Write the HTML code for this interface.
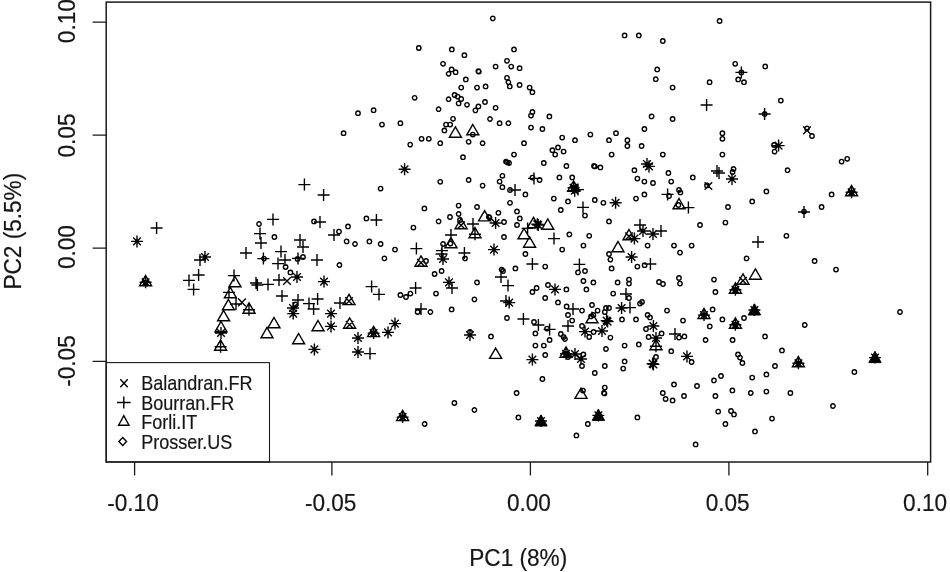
<!DOCTYPE html>
<html><head><meta charset="utf-8"><title>PCA plot</title>
<style>
html,body{margin:0;padding:0;background:#fff;}
svg{display:block;}
text{font-family:"Liberation Sans",Arial,sans-serif;fill:#161616;stroke:#161616;stroke-width:0.2px;}
.ax{font-size:24.3px;}
.lg{font-size:19.4px;}
.ln{stroke:#1a1a1a;stroke-width:1.5;fill:none;}
.pt{stroke:#000;stroke-width:1.4;fill:none;}
</style></head><body>
<svg width="950" height="572" viewBox="0 0 950 572">
<rect x="0" y="0" width="950" height="572" fill="#fff"/>
<path class="pt" d="M133.2 237.6L140.8 245.2M133.2 245.2L140.8 237.6M131.0 241.4H143.0M137.0 235.4V247.4M201.2 253.2L208.8 260.8M201.2 260.8L208.8 253.2M199.0 257.0H211.0M205.0 251.0V263.0M289.2 304.2L296.8 311.8M289.2 311.8L296.8 304.2M287.0 308.0H299.0M293.0 302.0V314.0M145.6 275.5L151.6 285.8H139.6ZM141.8 278.5L149.4 286.1M141.8 286.1L149.4 278.5M139.6 282.3H151.6M145.6 276.3V288.3M143.4 282.3a2.2 2.2 0 1 0 4.4 0a2.2 2.2 0 1 0 -4.4 0M150.6 228.0H162.6M156.6 222.0V234.0M194.0 260.0H206.0M200.0 254.0V266.0M192.6 275.0H204.6M198.6 269.0V281.0M183.0 280.4H195.0M189.0 274.4V286.4M187.6 289.4H199.6M193.6 283.4V295.4M240.0 253.0H252.0M246.0 247.0V259.0M267.0 219.4H279.0M273.0 213.4V225.4M254.0 233.6H266.0M260.0 227.6V239.6M255.0 243.0H267.0M261.0 237.0V249.0M257.4 258.6H269.4M263.4 252.6V264.6M275.0 251.6H287.0M281.0 245.6V257.6M272.0 263.6H284.0M278.0 257.6V269.6M279.0 260.0H291.0M285.0 254.0V266.0M228.0 275.6H240.0M234.0 269.6V281.6M250.0 283.0H262.0M256.0 277.0V289.0M251.4 285.0H263.4M257.4 279.0V291.0M262.0 284.4H274.0M268.0 278.4V290.4M273.0 280.0H285.0M279.0 274.0V286.0M276.0 296.0H288.0M282.0 290.0V302.0M223.0 292.4H235.0M229.0 286.4V298.4M230.0 304.0H242.0M236.0 298.0V310.0M256.8 224.0a2.2 2.2 0 1 0 4.4 0a2.2 2.2 0 1 0 -4.4 0M272.2 237.0a2.2 2.2 0 1 0 4.4 0a2.2 2.2 0 1 0 -4.4 0M261.8 258.6a2.2 2.2 0 1 0 4.4 0a2.2 2.2 0 1 0 -4.4 0M235.0 276.5L241.0 286.8H229.0ZM230.4 287.5L236.4 297.8H224.4ZM228.4 299.5L234.4 309.8H222.4ZM283.2 277.2L290.8 284.8M283.2 284.8L290.8 277.2M238.2 298.6L245.8 306.2M238.2 306.2L245.8 298.6M249.0 302.9L255.0 313.2H243.0ZM243.0 309.7H255.0M249.0 303.7V315.7M283.4 267.0a2.2 2.2 0 1 0 4.4 0a2.2 2.2 0 1 0 -4.4 0M288.2 272.4a2.2 2.2 0 1 0 4.4 0a2.2 2.2 0 1 0 -4.4 0M295.4 259.0a2.2 2.2 0 1 0 4.4 0a2.2 2.2 0 1 0 -4.4 0M300.8 257.0a2.2 2.2 0 1 0 4.4 0a2.2 2.2 0 1 0 -4.4 0M337.2 265.0a2.2 2.2 0 1 0 4.4 0a2.2 2.2 0 1 0 -4.4 0M382.2 258.4a2.2 2.2 0 1 0 4.4 0a2.2 2.2 0 1 0 -4.4 0M293.4 304.4a2.2 2.2 0 1 0 4.4 0a2.2 2.2 0 1 0 -4.4 0M292.0 258.4H304.0M298.0 252.4V264.4M311.0 260.0H323.0M317.0 254.0V266.0M365.6 286.6H377.6M371.6 280.6V292.6M373.0 294.4H385.0M379.0 288.4V300.4M292.0 300.0H304.0M298.0 294.0V306.0M303.0 303.6H315.0M309.0 297.6V309.6M307.6 309.0H319.6M313.6 303.0V315.0M311.6 299.0H323.6M317.6 293.0V305.0M334.0 303.0H346.0M340.0 297.0V309.0M364.0 353.6H376.0M370.0 347.6V359.6M293.2 273.2L300.8 280.8M293.2 280.8L300.8 273.2M291.0 277.0H303.0M297.0 271.0V283.0M320.2 277.8L327.8 285.4M320.2 285.4L327.8 277.8M318.0 281.6H330.0M324.0 275.6V287.6M217.2 329.2L224.8 336.8M217.2 336.8L224.8 329.2M215.0 333.0H227.0M221.0 327.0V339.0M289.4 309.8L297.0 317.4M289.4 317.4L297.0 309.8M287.2 313.6H299.2M293.2 307.6V319.6M327.2 309.8L334.8 317.4M327.2 317.4L334.8 309.8M325.0 313.6H337.0M331.0 307.6V319.6M327.2 322.6L334.8 330.2M327.2 330.2L334.8 322.6M325.0 326.4H337.0M331.0 320.4V332.4M310.6 345.6L318.2 353.2M310.6 353.2L318.2 345.6M308.4 349.4H320.4M314.4 343.4V355.4M354.2 334.2L361.8 341.8M354.2 341.8L361.8 334.2M352.0 338.0H364.0M358.0 332.0V344.0M354.2 348.2L361.8 355.8M354.2 355.8L361.8 348.2M352.0 352.0H364.0M358.0 346.0V358.0M384.2 328.6L391.8 336.2M384.2 336.2L391.8 328.6M382.0 332.4H394.0M388.0 326.4V338.4M223.6 310.5L229.6 320.8H217.6ZM221.0 321.5L227.0 331.8H215.0ZM274.0 317.5L280.0 327.8H268.0ZM267.0 327.5L273.0 337.8H261.0ZM298.6 333.5L304.6 343.8H292.6ZM318.0 320.5L324.0 330.8H312.0ZM220.6 339.9L226.6 350.2H214.6ZM214.6 346.7H226.6M220.6 340.7V352.7M349.0 294.3L355.0 304.6H343.0ZM345.2 297.3L352.8 304.9M345.2 304.9L352.8 297.3M349.6 317.9L355.6 328.2H343.6ZM345.8 320.9L353.4 328.5M345.8 328.5L353.4 320.9M373.6 326.3L379.6 336.6H367.6ZM369.8 329.3L377.4 336.9M369.8 336.9L377.4 329.3M367.6 333.1H379.6M373.6 327.1V339.1M371.4 333.1a2.2 2.2 0 1 0 4.4 0a2.2 2.2 0 1 0 -4.4 0M416.6 48.0a2.2 2.2 0 1 0 4.4 0a2.2 2.2 0 1 0 -4.4 0M449.6 49.4a2.2 2.2 0 1 0 4.4 0a2.2 2.2 0 1 0 -4.4 0M462.2 55.2a2.2 2.2 0 1 0 4.4 0a2.2 2.2 0 1 0 -4.4 0M440.8 63.8a2.2 2.2 0 1 0 4.4 0a2.2 2.2 0 1 0 -4.4 0M449.4 69.4a2.2 2.2 0 1 0 4.4 0a2.2 2.2 0 1 0 -4.4 0M453.4 72.2a2.2 2.2 0 1 0 4.4 0a2.2 2.2 0 1 0 -4.4 0M446.4 73.8a2.2 2.2 0 1 0 4.4 0a2.2 2.2 0 1 0 -4.4 0M476.2 71.2a2.2 2.2 0 1 0 4.4 0a2.2 2.2 0 1 0 -4.4 0M476.6 71.6a2.2 2.2 0 1 0 4.4 0a2.2 2.2 0 1 0 -4.4 0M463.6 79.4a2.2 2.2 0 1 0 4.4 0a2.2 2.2 0 1 0 -4.4 0M459.0 87.6a2.2 2.2 0 1 0 4.4 0a2.2 2.2 0 1 0 -4.4 0M474.8 87.6a2.2 2.2 0 1 0 4.4 0a2.2 2.2 0 1 0 -4.4 0M483.4 86.4a2.2 2.2 0 1 0 4.4 0a2.2 2.2 0 1 0 -4.4 0M412.4 97.8a2.2 2.2 0 1 0 4.4 0a2.2 2.2 0 1 0 -4.4 0M452.4 95.0a2.2 2.2 0 1 0 4.4 0a2.2 2.2 0 1 0 -4.4 0M455.4 96.6a2.2 2.2 0 1 0 4.4 0a2.2 2.2 0 1 0 -4.4 0M459.0 99.0a2.2 2.2 0 1 0 4.4 0a2.2 2.2 0 1 0 -4.4 0M446.4 99.2a2.2 2.2 0 1 0 4.4 0a2.2 2.2 0 1 0 -4.4 0M456.4 103.4a2.2 2.2 0 1 0 4.4 0a2.2 2.2 0 1 0 -4.4 0M464.8 104.8a2.2 2.2 0 1 0 4.4 0a2.2 2.2 0 1 0 -4.4 0M476.2 106.4a2.2 2.2 0 1 0 4.4 0a2.2 2.2 0 1 0 -4.4 0M482.8 102.0a2.2 2.2 0 1 0 4.4 0a2.2 2.2 0 1 0 -4.4 0M473.2 110.4a2.2 2.2 0 1 0 4.4 0a2.2 2.2 0 1 0 -4.4 0M436.4 109.2a2.2 2.2 0 1 0 4.4 0a2.2 2.2 0 1 0 -4.4 0M371.4 110.2a2.2 2.2 0 1 0 4.4 0a2.2 2.2 0 1 0 -4.4 0M355.8 113.2a2.2 2.2 0 1 0 4.4 0a2.2 2.2 0 1 0 -4.4 0M490.6 18.4a2.2 2.2 0 1 0 4.4 0a2.2 2.2 0 1 0 -4.4 0M511.8 49.4a2.2 2.2 0 1 0 4.4 0a2.2 2.2 0 1 0 -4.4 0M504.8 60.8a2.2 2.2 0 1 0 4.4 0a2.2 2.2 0 1 0 -4.4 0M493.4 66.6a2.2 2.2 0 1 0 4.4 0a2.2 2.2 0 1 0 -4.4 0M509.0 66.6a2.2 2.2 0 1 0 4.4 0a2.2 2.2 0 1 0 -4.4 0M517.4 68.2a2.2 2.2 0 1 0 4.4 0a2.2 2.2 0 1 0 -4.4 0M504.8 77.8a2.2 2.2 0 1 0 4.4 0a2.2 2.2 0 1 0 -4.4 0M506.2 82.2a2.2 2.2 0 1 0 4.4 0a2.2 2.2 0 1 0 -4.4 0M507.6 86.4a2.2 2.2 0 1 0 4.4 0a2.2 2.2 0 1 0 -4.4 0M517.4 85.0a2.2 2.2 0 1 0 4.4 0a2.2 2.2 0 1 0 -4.4 0M527.4 87.6a2.2 2.2 0 1 0 4.4 0a2.2 2.2 0 1 0 -4.4 0M530.2 92.2a2.2 2.2 0 1 0 4.4 0a2.2 2.2 0 1 0 -4.4 0M493.4 107.8a2.2 2.2 0 1 0 4.4 0a2.2 2.2 0 1 0 -4.4 0M530.2 112.0a2.2 2.2 0 1 0 4.4 0a2.2 2.2 0 1 0 -4.4 0M622.4 35.4a2.2 2.2 0 1 0 4.4 0a2.2 2.2 0 1 0 -4.4 0M636.6 35.4a2.2 2.2 0 1 0 4.4 0a2.2 2.2 0 1 0 -4.4 0M660.6 41.0a2.2 2.2 0 1 0 4.4 0a2.2 2.2 0 1 0 -4.4 0M655.0 69.4a2.2 2.2 0 1 0 4.4 0a2.2 2.2 0 1 0 -4.4 0M653.6 79.2a2.2 2.2 0 1 0 4.4 0a2.2 2.2 0 1 0 -4.4 0M670.4 87.6a2.2 2.2 0 1 0 4.4 0a2.2 2.2 0 1 0 -4.4 0M717.4 21.0a2.2 2.2 0 1 0 4.4 0a2.2 2.2 0 1 0 -4.4 0M733.0 63.8a2.2 2.2 0 1 0 4.4 0a2.2 2.2 0 1 0 -4.4 0M763.0 66.4a2.2 2.2 0 1 0 4.4 0a2.2 2.2 0 1 0 -4.4 0M707.4 82.2a2.2 2.2 0 1 0 4.4 0a2.2 2.2 0 1 0 -4.4 0M736.0 79.4a2.2 2.2 0 1 0 4.4 0a2.2 2.2 0 1 0 -4.4 0M741.8 82.2a2.2 2.2 0 1 0 4.4 0a2.2 2.2 0 1 0 -4.4 0M778.6 100.6a2.2 2.2 0 1 0 4.4 0a2.2 2.2 0 1 0 -4.4 0M739.2 72.4a2.2 2.2 0 1 0 4.4 0a2.2 2.2 0 1 0 -4.4 0M735.4 72.4H747.4M741.4 66.4V78.4M700.6 105.0H712.6M706.6 99.0V111.0M379.8 124.6a2.2 2.2 0 1 0 4.4 0a2.2 2.2 0 1 0 -4.4 0M398.2 123.2a2.2 2.2 0 1 0 4.4 0a2.2 2.2 0 1 0 -4.4 0M341.4 133.2a2.2 2.2 0 1 0 4.4 0a2.2 2.2 0 1 0 -4.4 0M450.8 118.8a2.2 2.2 0 1 0 4.4 0a2.2 2.2 0 1 0 -4.4 0M443.8 124.6a2.2 2.2 0 1 0 4.4 0a2.2 2.2 0 1 0 -4.4 0M448.0 124.6a2.2 2.2 0 1 0 4.4 0a2.2 2.2 0 1 0 -4.4 0M442.2 130.4a2.2 2.2 0 1 0 4.4 0a2.2 2.2 0 1 0 -4.4 0M419.4 138.8a2.2 2.2 0 1 0 4.4 0a2.2 2.2 0 1 0 -4.4 0M426.6 138.8a2.2 2.2 0 1 0 4.4 0a2.2 2.2 0 1 0 -4.4 0M408.0 144.6a2.2 2.2 0 1 0 4.4 0a2.2 2.2 0 1 0 -4.4 0M438.0 143.2a2.2 2.2 0 1 0 4.4 0a2.2 2.2 0 1 0 -4.4 0M466.4 141.8a2.2 2.2 0 1 0 4.4 0a2.2 2.2 0 1 0 -4.4 0M480.4 143.2a2.2 2.2 0 1 0 4.4 0a2.2 2.2 0 1 0 -4.4 0M470.6 134.6a2.2 2.2 0 1 0 4.4 0a2.2 2.2 0 1 0 -4.4 0M460.8 157.2a2.2 2.2 0 1 0 4.4 0a2.2 2.2 0 1 0 -4.4 0M438.0 181.8a2.2 2.2 0 1 0 4.4 0a2.2 2.2 0 1 0 -4.4 0M466.4 180.0a2.2 2.2 0 1 0 4.4 0a2.2 2.2 0 1 0 -4.4 0M480.4 185.6a2.2 2.2 0 1 0 4.4 0a2.2 2.2 0 1 0 -4.4 0M378.4 188.6a2.2 2.2 0 1 0 4.4 0a2.2 2.2 0 1 0 -4.4 0M422.2 208.4a2.2 2.2 0 1 0 4.4 0a2.2 2.2 0 1 0 -4.4 0M456.4 205.6a2.2 2.2 0 1 0 4.4 0a2.2 2.2 0 1 0 -4.4 0M474.8 207.0a2.2 2.2 0 1 0 4.4 0a2.2 2.2 0 1 0 -4.4 0M456.4 214.0a2.2 2.2 0 1 0 4.4 0a2.2 2.2 0 1 0 -4.4 0M447.8 217.0a2.2 2.2 0 1 0 4.4 0a2.2 2.2 0 1 0 -4.4 0M436.4 221.4a2.2 2.2 0 1 0 4.4 0a2.2 2.2 0 1 0 -4.4 0M457.8 220.0a2.2 2.2 0 1 0 4.4 0a2.2 2.2 0 1 0 -4.4 0M364.2 218.4a2.2 2.2 0 1 0 4.4 0a2.2 2.2 0 1 0 -4.4 0M311.8 221.4a2.2 2.2 0 1 0 4.4 0a2.2 2.2 0 1 0 -4.4 0M345.8 226.4a2.2 2.2 0 1 0 4.4 0a2.2 2.2 0 1 0 -4.4 0M411.2 227.6a2.2 2.2 0 1 0 4.4 0a2.2 2.2 0 1 0 -4.4 0M455.4 126.9L461.4 137.2H449.4ZM472.8 124.5L478.8 134.8H466.8ZM400.8 165.4L408.4 173.0M400.8 173.0L408.4 165.4M398.6 169.2H410.6M404.6 163.2V175.2M298.4 184.6H310.4M304.4 178.6V190.6M317.6 195.0H329.6M323.6 189.0V201.0M314.0 222.0H326.0M320.0 216.0V228.0M370.4 220.0H382.4M376.4 214.0V226.0M467.0 224.0H479.0M473.0 218.0V230.0M487.8 119.0a2.2 2.2 0 1 0 4.4 0a2.2 2.2 0 1 0 -4.4 0M497.4 123.2a2.2 2.2 0 1 0 4.4 0a2.2 2.2 0 1 0 -4.4 0M506.2 123.2a2.2 2.2 0 1 0 4.4 0a2.2 2.2 0 1 0 -4.4 0M528.8 115.6a2.2 2.2 0 1 0 4.4 0a2.2 2.2 0 1 0 -4.4 0M547.2 116.4a2.2 2.2 0 1 0 4.4 0a2.2 2.2 0 1 0 -4.4 0M528.8 127.6a2.2 2.2 0 1 0 4.4 0a2.2 2.2 0 1 0 -4.4 0M540.2 129.0a2.2 2.2 0 1 0 4.4 0a2.2 2.2 0 1 0 -4.4 0M521.8 143.2a2.2 2.2 0 1 0 4.4 0a2.2 2.2 0 1 0 -4.4 0M560.0 137.6a2.2 2.2 0 1 0 4.4 0a2.2 2.2 0 1 0 -4.4 0M572.8 140.2a2.2 2.2 0 1 0 4.4 0a2.2 2.2 0 1 0 -4.4 0M588.2 134.6a2.2 2.2 0 1 0 4.4 0a2.2 2.2 0 1 0 -4.4 0M613.8 133.2a2.2 2.2 0 1 0 4.4 0a2.2 2.2 0 1 0 -4.4 0M606.8 140.2a2.2 2.2 0 1 0 4.4 0a2.2 2.2 0 1 0 -4.4 0M625.2 140.2a2.2 2.2 0 1 0 4.4 0a2.2 2.2 0 1 0 -4.4 0M625.2 146.0a2.2 2.2 0 1 0 4.4 0a2.2 2.2 0 1 0 -4.4 0M639.4 146.0a2.2 2.2 0 1 0 4.4 0a2.2 2.2 0 1 0 -4.4 0M642.2 129.0a2.2 2.2 0 1 0 4.4 0a2.2 2.2 0 1 0 -4.4 0M649.4 116.4a2.2 2.2 0 1 0 4.4 0a2.2 2.2 0 1 0 -4.4 0M670.4 119.0a2.2 2.2 0 1 0 4.4 0a2.2 2.2 0 1 0 -4.4 0M511.8 154.6a2.2 2.2 0 1 0 4.4 0a2.2 2.2 0 1 0 -4.4 0M555.8 147.4a2.2 2.2 0 1 0 4.4 0a2.2 2.2 0 1 0 -4.4 0M550.2 150.2a2.2 2.2 0 1 0 4.4 0a2.2 2.2 0 1 0 -4.4 0M553.0 154.6a2.2 2.2 0 1 0 4.4 0a2.2 2.2 0 1 0 -4.4 0M561.4 151.6a2.2 2.2 0 1 0 4.4 0a2.2 2.2 0 1 0 -4.4 0M609.4 154.6a2.2 2.2 0 1 0 4.4 0a2.2 2.2 0 1 0 -4.4 0M660.6 154.6a2.2 2.2 0 1 0 4.4 0a2.2 2.2 0 1 0 -4.4 0M503.8 161.6a2.2 2.2 0 1 0 4.4 0a2.2 2.2 0 1 0 -4.4 0M506.8 163.0a2.2 2.2 0 1 0 4.4 0a2.2 2.2 0 1 0 -4.4 0M505.0 162.4a2.2 2.2 0 1 0 4.4 0a2.2 2.2 0 1 0 -4.4 0M541.6 163.0a2.2 2.2 0 1 0 4.4 0a2.2 2.2 0 1 0 -4.4 0M564.2 166.0a2.2 2.2 0 1 0 4.4 0a2.2 2.2 0 1 0 -4.4 0M591.8 166.0a2.2 2.2 0 1 0 4.4 0a2.2 2.2 0 1 0 -4.4 0M592.6 166.4a2.2 2.2 0 1 0 4.4 0a2.2 2.2 0 1 0 -4.4 0M598.2 167.4a2.2 2.2 0 1 0 4.4 0a2.2 2.2 0 1 0 -4.4 0M632.2 170.2a2.2 2.2 0 1 0 4.4 0a2.2 2.2 0 1 0 -4.4 0M666.2 173.0a2.2 2.2 0 1 0 4.4 0a2.2 2.2 0 1 0 -4.4 0M500.2 175.8a2.2 2.2 0 1 0 4.4 0a2.2 2.2 0 1 0 -4.4 0M497.4 181.6a2.2 2.2 0 1 0 4.4 0a2.2 2.2 0 1 0 -4.4 0M500.2 187.2a2.2 2.2 0 1 0 4.4 0a2.2 2.2 0 1 0 -4.4 0M557.2 177.4a2.2 2.2 0 1 0 4.4 0a2.2 2.2 0 1 0 -4.4 0M570.0 177.4a2.2 2.2 0 1 0 4.4 0a2.2 2.2 0 1 0 -4.4 0M537.4 180.0a2.2 2.2 0 1 0 4.4 0a2.2 2.2 0 1 0 -4.4 0M635.2 178.6a2.2 2.2 0 1 0 4.4 0a2.2 2.2 0 1 0 -4.4 0M642.2 181.6a2.2 2.2 0 1 0 4.4 0a2.2 2.2 0 1 0 -4.4 0M650.8 183.0a2.2 2.2 0 1 0 4.4 0a2.2 2.2 0 1 0 -4.4 0M669.0 181.6a2.2 2.2 0 1 0 4.4 0a2.2 2.2 0 1 0 -4.4 0M507.8 190.0a2.2 2.2 0 1 0 4.4 0a2.2 2.2 0 1 0 -4.4 0M523.2 194.4a2.2 2.2 0 1 0 4.4 0a2.2 2.2 0 1 0 -4.4 0M642.2 194.4a2.2 2.2 0 1 0 4.4 0a2.2 2.2 0 1 0 -4.4 0M633.8 198.6a2.2 2.2 0 1 0 4.4 0a2.2 2.2 0 1 0 -4.4 0M551.6 198.6a2.2 2.2 0 1 0 4.4 0a2.2 2.2 0 1 0 -4.4 0M565.8 201.4a2.2 2.2 0 1 0 4.4 0a2.2 2.2 0 1 0 -4.4 0M592.6 200.0a2.2 2.2 0 1 0 4.4 0a2.2 2.2 0 1 0 -4.4 0M601.2 202.8a2.2 2.2 0 1 0 4.4 0a2.2 2.2 0 1 0 -4.4 0M507.8 202.8a2.2 2.2 0 1 0 4.4 0a2.2 2.2 0 1 0 -4.4 0M558.6 210.0a2.2 2.2 0 1 0 4.4 0a2.2 2.2 0 1 0 -4.4 0M582.8 215.6a2.2 2.2 0 1 0 4.4 0a2.2 2.2 0 1 0 -4.4 0M514.8 211.4a2.2 2.2 0 1 0 4.4 0a2.2 2.2 0 1 0 -4.4 0M496.2 212.8a2.2 2.2 0 1 0 4.4 0a2.2 2.2 0 1 0 -4.4 0M517.6 218.4a2.2 2.2 0 1 0 4.4 0a2.2 2.2 0 1 0 -4.4 0M501.8 222.0a2.2 2.2 0 1 0 4.4 0a2.2 2.2 0 1 0 -4.4 0M514.8 225.0a2.2 2.2 0 1 0 4.4 0a2.2 2.2 0 1 0 -4.4 0M606.8 221.4a2.2 2.2 0 1 0 4.4 0a2.2 2.2 0 1 0 -4.4 0M666.8 196.0a2.2 2.2 0 1 0 4.4 0a2.2 2.2 0 1 0 -4.4 0M530.2 177.6a2.2 2.2 0 1 0 4.4 0a2.2 2.2 0 1 0 -4.4 0M528.0 178.4H540.0M534.0 172.4V184.4M509.0 190.0H521.0M515.0 184.0V196.0M577.0 207.4H589.0M583.0 201.4V213.4M572.0 189.6H584.0M578.0 183.6V195.6M634.0 225.0H646.0M640.0 219.0V231.0M661.6 194.4H673.6M667.6 188.4V200.4M643.2 160.2L650.8 167.8M643.2 167.8L650.8 160.2M641.0 164.0H653.0M647.0 158.0V170.0M645.2 162.6L652.8 170.2M645.2 170.2L652.8 162.6M643.0 166.4H655.0M649.0 160.4V172.4M611.8 199.0L619.4 206.6M611.8 206.6L619.4 199.0M609.6 202.8H621.6M615.6 196.8V208.8M491.8 219.2L499.4 226.8M491.8 226.8L499.4 219.2M489.6 223.0H501.6M495.6 217.0V229.0M573.6 180.9L579.6 191.2H567.6ZM569.8 183.9L577.4 191.5M569.8 191.5L577.4 183.9M567.6 187.7H579.6M573.6 181.7V193.7M571.4 187.7a2.2 2.2 0 1 0 4.4 0a2.2 2.2 0 1 0 -4.4 0M774.8 141.8L782.4 149.4M774.8 149.4L782.4 141.8M772.6 145.6H784.6M778.6 139.6V151.6M728.2 175.2L735.8 182.8M728.2 182.8L735.8 175.2M726.0 179.0H738.0M732.0 173.0V185.0M758.6 114.0H770.6M764.6 108.0V120.0M762.4 114.0a2.2 2.2 0 1 0 4.4 0a2.2 2.2 0 1 0 -4.4 0M720.2 133.2a2.2 2.2 0 1 0 4.4 0a2.2 2.2 0 1 0 -4.4 0M720.2 138.8a2.2 2.2 0 1 0 4.4 0a2.2 2.2 0 1 0 -4.4 0M720.2 154.6a2.2 2.2 0 1 0 4.4 0a2.2 2.2 0 1 0 -4.4 0M690.6 177.4a2.2 2.2 0 1 0 4.4 0a2.2 2.2 0 1 0 -4.4 0M676.8 190.0a2.2 2.2 0 1 0 4.4 0a2.2 2.2 0 1 0 -4.4 0M678.2 192.4a2.2 2.2 0 1 0 4.4 0a2.2 2.2 0 1 0 -4.4 0M809.8 136.0a2.2 2.2 0 1 0 4.4 0a2.2 2.2 0 1 0 -4.4 0M772.4 151.6a2.2 2.2 0 1 0 4.4 0a2.2 2.2 0 1 0 -4.4 0M771.8 145.0a2.2 2.2 0 1 0 4.4 0a2.2 2.2 0 1 0 -4.4 0M785.4 170.2a2.2 2.2 0 1 0 4.4 0a2.2 2.2 0 1 0 -4.4 0M839.4 161.6a2.2 2.2 0 1 0 4.4 0a2.2 2.2 0 1 0 -4.4 0M845.0 158.8a2.2 2.2 0 1 0 4.4 0a2.2 2.2 0 1 0 -4.4 0M764.2 191.4a2.2 2.2 0 1 0 4.4 0a2.2 2.2 0 1 0 -4.4 0M750.0 201.4a2.2 2.2 0 1 0 4.4 0a2.2 2.2 0 1 0 -4.4 0M725.8 207.0a2.2 2.2 0 1 0 4.4 0a2.2 2.2 0 1 0 -4.4 0M723.2 222.6a2.2 2.2 0 1 0 4.4 0a2.2 2.2 0 1 0 -4.4 0M697.8 225.0a2.2 2.2 0 1 0 4.4 0a2.2 2.2 0 1 0 -4.4 0M829.4 194.4a2.2 2.2 0 1 0 4.4 0a2.2 2.2 0 1 0 -4.4 0M819.4 207.0a2.2 2.2 0 1 0 4.4 0a2.2 2.2 0 1 0 -4.4 0M731.4 169.0a2.2 2.2 0 1 0 4.4 0a2.2 2.2 0 1 0 -4.4 0M730.4 172.0a2.2 2.2 0 1 0 4.4 0a2.2 2.2 0 1 0 -4.4 0M804.8 128.4a2.2 2.2 0 1 0 4.4 0a2.2 2.2 0 1 0 -4.4 0M704.8 185.4a2.2 2.2 0 1 0 4.4 0a2.2 2.2 0 1 0 -4.4 0M801.8 211.6a2.2 2.2 0 1 0 4.4 0a2.2 2.2 0 1 0 -4.4 0M803.2 126.6L810.8 134.2M803.2 134.2L810.8 126.6M704.6 182.2L712.2 189.8M704.6 189.8L712.2 182.2M711.0 171.0H723.0M717.0 165.0V177.0M713.0 173.0H725.0M719.0 167.0V179.0M682.4 207.6H694.4M688.4 201.6V213.6M798.0 212.0H810.0M804.0 206.0V218.0M851.6 185.5L857.6 195.8H845.6ZM847.8 188.5L855.4 196.1M847.8 196.1L855.4 188.5M845.6 192.3H857.6M851.6 186.3V198.3M849.4 192.3a2.2 2.2 0 1 0 4.4 0a2.2 2.2 0 1 0 -4.4 0M328.0 235.0H340.0M334.0 229.0V241.0M294.0 240.0H306.0M300.0 234.0V246.0M297.0 247.0H309.0M303.0 241.0V253.0M410.4 248.6H422.4M416.4 242.6V254.6M445.0 235.0H457.0M451.0 229.0V241.0M435.6 254.0H447.6M441.6 248.0V260.0M458.4 253.0H470.4M464.4 247.0V259.0M409.6 288.0H421.6M415.6 282.0V294.0M446.0 288.0H458.0M452.0 282.0V294.0M415.0 309.0H427.0M421.0 303.0V315.0M336.8 231.6a2.2 2.2 0 1 0 4.4 0a2.2 2.2 0 1 0 -4.4 0M344.4 241.4a2.2 2.2 0 1 0 4.4 0a2.2 2.2 0 1 0 -4.4 0M352.8 244.0a2.2 2.2 0 1 0 4.4 0a2.2 2.2 0 1 0 -4.4 0M367.2 241.4a2.2 2.2 0 1 0 4.4 0a2.2 2.2 0 1 0 -4.4 0M378.4 244.0a2.2 2.2 0 1 0 4.4 0a2.2 2.2 0 1 0 -4.4 0M392.8 249.6a2.2 2.2 0 1 0 4.4 0a2.2 2.2 0 1 0 -4.4 0M440.8 244.0a2.2 2.2 0 1 0 4.4 0a2.2 2.2 0 1 0 -4.4 0M462.8 258.4a2.2 2.2 0 1 0 4.4 0a2.2 2.2 0 1 0 -4.4 0M423.8 261.0a2.2 2.2 0 1 0 4.4 0a2.2 2.2 0 1 0 -4.4 0M432.4 274.0a2.2 2.2 0 1 0 4.4 0a2.2 2.2 0 1 0 -4.4 0M439.4 271.0a2.2 2.2 0 1 0 4.4 0a2.2 2.2 0 1 0 -4.4 0M474.8 282.4a2.2 2.2 0 1 0 4.4 0a2.2 2.2 0 1 0 -4.4 0M433.8 293.6a2.2 2.2 0 1 0 4.4 0a2.2 2.2 0 1 0 -4.4 0M472.2 299.4a2.2 2.2 0 1 0 4.4 0a2.2 2.2 0 1 0 -4.4 0M449.4 309.4a2.2 2.2 0 1 0 4.4 0a2.2 2.2 0 1 0 -4.4 0M398.2 295.0a2.2 2.2 0 1 0 4.4 0a2.2 2.2 0 1 0 -4.4 0M403.8 297.0a2.2 2.2 0 1 0 4.4 0a2.2 2.2 0 1 0 -4.4 0M408.2 293.6a2.2 2.2 0 1 0 4.4 0a2.2 2.2 0 1 0 -4.4 0M415.4 312.0a2.2 2.2 0 1 0 4.4 0a2.2 2.2 0 1 0 -4.4 0M428.2 312.0a2.2 2.2 0 1 0 4.4 0a2.2 2.2 0 1 0 -4.4 0M439.2 255.2L446.8 262.8M439.2 262.8L446.8 255.2M437.0 259.0H449.0M443.0 253.0V265.0M445.2 278.6L452.8 286.2M445.2 286.2L452.8 278.6M443.0 282.4H455.0M449.0 276.4V288.4M391.2 319.8L398.8 327.4M391.2 327.4L398.8 319.8M389.0 323.6H401.0M395.0 317.6V329.6M466.2 331.2L473.8 338.8M466.2 338.8L473.8 331.2M464.0 335.0H476.0M470.0 329.0V341.0M451.0 237.5L457.0 247.8H445.0ZM475.0 227.5L481.0 237.8H469.0ZM469.0 234.3H481.0M475.0 228.3V240.3M421.0 255.9L427.0 266.2H415.0ZM417.2 258.9L424.8 266.5M417.2 266.5L424.8 258.9M501.8 237.0a2.2 2.2 0 1 0 4.4 0a2.2 2.2 0 1 0 -4.4 0M567.2 234.4a2.2 2.2 0 1 0 4.4 0a2.2 2.2 0 1 0 -4.4 0M587.0 235.8a2.2 2.2 0 1 0 4.4 0a2.2 2.2 0 1 0 -4.4 0M581.2 245.6a2.2 2.2 0 1 0 4.4 0a2.2 2.2 0 1 0 -4.4 0M560.0 249.6a2.2 2.2 0 1 0 4.4 0a2.2 2.2 0 1 0 -4.4 0M523.2 254.0a2.2 2.2 0 1 0 4.4 0a2.2 2.2 0 1 0 -4.4 0M645.4 245.6a2.2 2.2 0 1 0 4.4 0a2.2 2.2 0 1 0 -4.4 0M671.8 245.6a2.2 2.2 0 1 0 4.4 0a2.2 2.2 0 1 0 -4.4 0M606.8 254.0a2.2 2.2 0 1 0 4.4 0a2.2 2.2 0 1 0 -4.4 0M608.2 259.6a2.2 2.2 0 1 0 4.4 0a2.2 2.2 0 1 0 -4.4 0M609.4 268.4a2.2 2.2 0 1 0 4.4 0a2.2 2.2 0 1 0 -4.4 0M513.2 268.4a2.2 2.2 0 1 0 4.4 0a2.2 2.2 0 1 0 -4.4 0M543.0 266.6a2.2 2.2 0 1 0 4.4 0a2.2 2.2 0 1 0 -4.4 0M635.2 266.6a2.2 2.2 0 1 0 4.4 0a2.2 2.2 0 1 0 -4.4 0M642.4 265.2a2.2 2.2 0 1 0 4.4 0a2.2 2.2 0 1 0 -4.4 0M499.4 269.6a2.2 2.2 0 1 0 4.4 0a2.2 2.2 0 1 0 -4.4 0M500.8 271.0a2.2 2.2 0 1 0 4.4 0a2.2 2.2 0 1 0 -4.4 0M575.8 272.4a2.2 2.2 0 1 0 4.4 0a2.2 2.2 0 1 0 -4.4 0M582.8 271.0a2.2 2.2 0 1 0 4.4 0a2.2 2.2 0 1 0 -4.4 0M581.2 281.0a2.2 2.2 0 1 0 4.4 0a2.2 2.2 0 1 0 -4.4 0M591.2 282.4a2.2 2.2 0 1 0 4.4 0a2.2 2.2 0 1 0 -4.4 0M584.2 289.4a2.2 2.2 0 1 0 4.4 0a2.2 2.2 0 1 0 -4.4 0M615.4 282.4a2.2 2.2 0 1 0 4.4 0a2.2 2.2 0 1 0 -4.4 0M626.8 279.6a2.2 2.2 0 1 0 4.4 0a2.2 2.2 0 1 0 -4.4 0M626.8 283.6a2.2 2.2 0 1 0 4.4 0a2.2 2.2 0 1 0 -4.4 0M656.8 282.0a2.2 2.2 0 1 0 4.4 0a2.2 2.2 0 1 0 -4.4 0M660.8 284.0a2.2 2.2 0 1 0 4.4 0a2.2 2.2 0 1 0 -4.4 0M611.0 293.6a2.2 2.2 0 1 0 4.4 0a2.2 2.2 0 1 0 -4.4 0M564.2 289.4a2.2 2.2 0 1 0 4.4 0a2.2 2.2 0 1 0 -4.4 0M545.8 285.0a2.2 2.2 0 1 0 4.4 0a2.2 2.2 0 1 0 -4.4 0M534.4 288.0a2.2 2.2 0 1 0 4.4 0a2.2 2.2 0 1 0 -4.4 0M530.2 292.0a2.2 2.2 0 1 0 4.4 0a2.2 2.2 0 1 0 -4.4 0M543.0 298.0a2.2 2.2 0 1 0 4.4 0a2.2 2.2 0 1 0 -4.4 0M555.8 302.4a2.2 2.2 0 1 0 4.4 0a2.2 2.2 0 1 0 -4.4 0M626.8 298.0a2.2 2.2 0 1 0 4.4 0a2.2 2.2 0 1 0 -4.4 0M589.8 305.0a2.2 2.2 0 1 0 4.4 0a2.2 2.2 0 1 0 -4.4 0M564.4 306.4a2.2 2.2 0 1 0 4.4 0a2.2 2.2 0 1 0 -4.4 0M579.8 310.6a2.2 2.2 0 1 0 4.4 0a2.2 2.2 0 1 0 -4.4 0M565.8 315.0a2.2 2.2 0 1 0 4.4 0a2.2 2.2 0 1 0 -4.4 0M637.8 303.6a2.2 2.2 0 1 0 4.4 0a2.2 2.2 0 1 0 -4.4 0M639.8 302.0a2.2 2.2 0 1 0 4.4 0a2.2 2.2 0 1 0 -4.4 0M664.8 310.6a2.2 2.2 0 1 0 4.4 0a2.2 2.2 0 1 0 -4.4 0M504.8 318.0a2.2 2.2 0 1 0 4.4 0a2.2 2.2 0 1 0 -4.4 0M619.8 319.4a2.2 2.2 0 1 0 4.4 0a2.2 2.2 0 1 0 -4.4 0M633.8 319.4a2.2 2.2 0 1 0 4.4 0a2.2 2.2 0 1 0 -4.4 0M645.4 315.0a2.2 2.2 0 1 0 4.4 0a2.2 2.2 0 1 0 -4.4 0M647.8 317.4a2.2 2.2 0 1 0 4.4 0a2.2 2.2 0 1 0 -4.4 0M531.8 322.0a2.2 2.2 0 1 0 4.4 0a2.2 2.2 0 1 0 -4.4 0M570.0 320.6a2.2 2.2 0 1 0 4.4 0a2.2 2.2 0 1 0 -4.4 0M533.2 333.4a2.2 2.2 0 1 0 4.4 0a2.2 2.2 0 1 0 -4.4 0M488.8 336.4a2.2 2.2 0 1 0 4.4 0a2.2 2.2 0 1 0 -4.4 0M547.4 340.0a2.2 2.2 0 1 0 4.4 0a2.2 2.2 0 1 0 -4.4 0M558.6 334.0a2.2 2.2 0 1 0 4.4 0a2.2 2.2 0 1 0 -4.4 0M561.4 337.0a2.2 2.2 0 1 0 4.4 0a2.2 2.2 0 1 0 -4.4 0M562.8 339.0a2.2 2.2 0 1 0 4.4 0a2.2 2.2 0 1 0 -4.4 0M608.2 337.6a2.2 2.2 0 1 0 4.4 0a2.2 2.2 0 1 0 -4.4 0M591.4 332.0a2.2 2.2 0 1 0 4.4 0a2.2 2.2 0 1 0 -4.4 0M587.0 337.0a2.2 2.2 0 1 0 4.4 0a2.2 2.2 0 1 0 -4.4 0M579.8 326.0a2.2 2.2 0 1 0 4.4 0a2.2 2.2 0 1 0 -4.4 0M643.8 329.0a2.2 2.2 0 1 0 4.4 0a2.2 2.2 0 1 0 -4.4 0M659.4 333.4a2.2 2.2 0 1 0 4.4 0a2.2 2.2 0 1 0 -4.4 0M646.4 337.0a2.2 2.2 0 1 0 4.4 0a2.2 2.2 0 1 0 -4.4 0M595.4 310.6a2.2 2.2 0 1 0 4.4 0a2.2 2.2 0 1 0 -4.4 0M603.8 308.0a2.2 2.2 0 1 0 4.4 0a2.2 2.2 0 1 0 -4.4 0M606.8 308.0a2.2 2.2 0 1 0 4.4 0a2.2 2.2 0 1 0 -4.4 0M602.6 312.0a2.2 2.2 0 1 0 4.4 0a2.2 2.2 0 1 0 -4.4 0M591.2 315.0a2.2 2.2 0 1 0 4.4 0a2.2 2.2 0 1 0 -4.4 0M588.8 316.4a2.2 2.2 0 1 0 4.4 0a2.2 2.2 0 1 0 -4.4 0M548.0 238.6H560.0M554.0 232.6V244.6M526.4 264.0H538.4M532.4 258.0V270.0M573.4 264.4H585.4M579.4 258.4V270.4M495.0 277.0H507.0M501.0 271.0V283.0M502.0 285.6H514.0M508.0 279.6V291.6M644.4 264.0H656.4M650.4 258.0V270.0M620.0 294.0H632.0M626.0 288.0V300.0M624.0 307.6H636.0M630.0 301.6V313.6M567.0 309.0H579.0M573.0 303.0V315.0M517.4 319.0H529.4M523.4 313.0V325.0M532.4 325.0H544.4M538.4 319.0V331.0M543.6 329.4H555.6M549.6 323.4V335.4M562.0 326.0H574.0M568.0 320.0V332.0M655.0 231.0H667.0M661.0 225.0V237.0M669.0 334.0H681.0M675.0 328.0V340.0M647.4 326.0H659.4M653.4 320.0V332.0M500.0 301.0H512.0M506.0 295.0V307.0M490.2 245.8L497.8 253.4M490.2 253.4L497.8 245.8M488.0 249.6H500.0M494.0 243.6V255.6M630.6 234.8L638.2 242.4M630.6 242.4L638.2 234.8M628.4 238.6H640.4M634.4 232.6V244.6M627.8 253.2L635.4 260.8M627.8 260.8L635.4 253.2M625.6 257.0H637.6M631.6 251.0V263.0M551.2 285.6L558.8 293.2M551.2 293.2L558.8 285.6M549.0 289.4H561.0M555.0 283.4V295.4M505.4 298.8L513.0 306.4M505.4 306.4L513.0 298.8M503.2 302.6H515.2M509.2 296.6V308.6M617.8 304.2L625.4 311.8M617.8 311.8L625.4 304.2M615.6 308.0H627.6M621.6 302.0V314.0M602.8 316.8L610.4 324.4M602.8 324.4L610.4 316.8M600.6 320.6H612.6M606.6 314.6V326.6M603.8 317.8L611.4 325.4M603.8 325.4L611.4 317.8M601.6 321.6H613.6M607.6 315.6V327.6M581.2 327.8L588.8 335.4M581.2 335.4L588.8 327.8M579.0 331.6H591.0M585.0 325.6V337.6M598.2 327.2L605.8 334.8M598.2 334.8L605.8 327.2M596.0 331.0H608.0M602.0 325.0V337.0M649.2 230.2L656.8 237.8M649.2 237.8L656.8 230.2M647.0 234.0H659.0M653.0 228.0V240.0M639.2 227.2L646.8 234.8M639.2 234.8L646.8 227.2M637.0 231.0H649.0M643.0 225.0V237.0M652.2 334.2L659.8 341.8M652.2 341.8L659.8 334.2M650.0 338.0H662.0M656.0 332.0V344.0M524.0 228.5L530.0 238.8H518.0ZM529.6 236.9L535.6 247.2H523.6ZM618.0 241.5L624.0 251.8H612.0ZM592.0 312.5L598.0 322.8H586.0ZM629.0 229.5L635.0 239.8H623.0ZM625.2 232.5L632.8 240.1M625.2 240.1L632.8 232.5M649.6 322.2L657.2 329.8M649.6 329.8L657.2 322.2M689.4 245.6a2.2 2.2 0 1 0 4.4 0a2.2 2.2 0 1 0 -4.4 0M677.8 252.6a2.2 2.2 0 1 0 4.4 0a2.2 2.2 0 1 0 -4.4 0M784.2 235.8a2.2 2.2 0 1 0 4.4 0a2.2 2.2 0 1 0 -4.4 0M744.4 258.4a2.2 2.2 0 1 0 4.4 0a2.2 2.2 0 1 0 -4.4 0M812.4 261.0a2.2 2.2 0 1 0 4.4 0a2.2 2.2 0 1 0 -4.4 0M833.8 269.6a2.2 2.2 0 1 0 4.4 0a2.2 2.2 0 1 0 -4.4 0M711.8 279.6a2.2 2.2 0 1 0 4.4 0a2.2 2.2 0 1 0 -4.4 0M676.8 278.0a2.2 2.2 0 1 0 4.4 0a2.2 2.2 0 1 0 -4.4 0M677.8 283.6a2.2 2.2 0 1 0 4.4 0a2.2 2.2 0 1 0 -4.4 0M713.2 292.0a2.2 2.2 0 1 0 4.4 0a2.2 2.2 0 1 0 -4.4 0M710.4 309.4a2.2 2.2 0 1 0 4.4 0a2.2 2.2 0 1 0 -4.4 0M680.8 320.6a2.2 2.2 0 1 0 4.4 0a2.2 2.2 0 1 0 -4.4 0M720.2 319.4a2.2 2.2 0 1 0 4.4 0a2.2 2.2 0 1 0 -4.4 0M741.8 318.0a2.2 2.2 0 1 0 4.4 0a2.2 2.2 0 1 0 -4.4 0M707.6 326.4a2.2 2.2 0 1 0 4.4 0a2.2 2.2 0 1 0 -4.4 0M802.6 325.0a2.2 2.2 0 1 0 4.4 0a2.2 2.2 0 1 0 -4.4 0M762.8 336.4a2.2 2.2 0 1 0 4.4 0a2.2 2.2 0 1 0 -4.4 0M682.2 336.4a2.2 2.2 0 1 0 4.4 0a2.2 2.2 0 1 0 -4.4 0M703.4 340.0a2.2 2.2 0 1 0 4.4 0a2.2 2.2 0 1 0 -4.4 0M730.4 340.0a2.2 2.2 0 1 0 4.4 0a2.2 2.2 0 1 0 -4.4 0M676.8 337.6a2.2 2.2 0 1 0 4.4 0a2.2 2.2 0 1 0 -4.4 0M752.0 242.0H764.0M758.0 236.0V248.0M755.4 268.9L761.4 279.2H749.4ZM743.0 273.9L749.0 284.2H737.0ZM739.2 276.9L746.8 284.5M739.2 284.5L746.8 276.9M735.4 282.9L741.4 293.2H729.4ZM731.6 285.9L739.2 293.5M731.6 293.5L739.2 285.9M729.4 289.7H741.4M735.4 283.7V295.7M733.2 289.7a2.2 2.2 0 1 0 4.4 0a2.2 2.2 0 1 0 -4.4 0M704.0 308.3L710.0 318.6H698.0ZM700.2 311.3L707.8 318.9M700.2 318.9L707.8 311.3M698.0 315.1H710.0M704.0 309.1V321.1M701.8 315.1a2.2 2.2 0 1 0 4.4 0a2.2 2.2 0 1 0 -4.4 0M735.4 317.9L741.4 328.2H729.4ZM731.6 320.9L739.2 328.5M731.6 328.5L739.2 320.9M729.4 324.7H741.4M735.4 318.7V330.7M733.2 324.7a2.2 2.2 0 1 0 4.4 0a2.2 2.2 0 1 0 -4.4 0M750.6 306.2L758.2 313.8M750.6 313.8L758.2 306.2M748.4 310.0H760.4M754.4 304.0V316.0M897.8 312.0a2.2 2.2 0 1 0 4.4 0a2.2 2.2 0 1 0 -4.4 0M544.8 328.6a2.2 2.2 0 1 0 4.4 0a2.2 2.2 0 1 0 -4.4 0M467.8 332.0a2.2 2.2 0 1 0 4.4 0a2.2 2.2 0 1 0 -4.4 0M679.0 198.5L685.0 208.8H673.0ZM676.2 205.0a2.2 2.2 0 1 0 4.4 0a2.2 2.2 0 1 0 -4.4 0M402.6 410.3L408.6 420.6H396.6ZM398.8 413.3L406.4 420.9M398.8 420.9L406.4 413.3M396.6 417.1H408.6M402.6 411.1V423.1M400.4 417.1a2.2 2.2 0 1 0 4.4 0a2.2 2.2 0 1 0 -4.4 0M452.2 403.0a2.2 2.2 0 1 0 4.4 0a2.2 2.2 0 1 0 -4.4 0M472.2 410.0a2.2 2.2 0 1 0 4.4 0a2.2 2.2 0 1 0 -4.4 0M422.4 424.0a2.2 2.2 0 1 0 4.4 0a2.2 2.2 0 1 0 -4.4 0M495.6 348.1L501.6 358.4H489.6ZM581.0 388.1L587.0 398.4H575.0ZM656.0 339.5L662.0 349.8H650.0ZM650.0 346.3H662.0M656.0 340.3V352.3M566.0 346.9L572.0 357.2H560.0ZM562.2 349.9L569.8 357.5M562.2 357.5L569.8 349.9M560.0 353.7H572.0M566.0 347.7V359.7M563.8 353.7a2.2 2.2 0 1 0 4.4 0a2.2 2.2 0 1 0 -4.4 0M537.2 417.2L544.8 424.8M537.2 424.8L544.8 417.2M535.0 421.0H547.0M541.0 415.0V427.0M594.6 411.6L602.2 419.2M594.6 419.2L602.2 411.6M592.4 415.4H604.4M598.4 409.4V421.4M528.6 355.8L536.2 363.4M528.6 363.4L536.2 355.8M526.4 359.6H538.4M532.4 353.6V365.6M577.2 355.2L584.8 362.8M577.2 362.8L584.8 355.2M575.0 359.0H587.0M581.0 353.0V365.0M571.2 350.2L578.8 357.8M571.2 357.8L578.8 350.2M569.0 354.0H581.0M575.0 348.0V360.0M648.8 359.8L656.4 367.4M648.8 367.4L656.4 359.8M646.6 363.6H658.6M652.6 357.6V369.6M649.6 360.6L657.2 368.2M649.6 368.2L657.2 360.6M647.4 364.4H659.4M653.4 358.4V370.4M533.2 345.6a2.2 2.2 0 1 0 4.4 0a2.2 2.2 0 1 0 -4.4 0M541.6 345.6a2.2 2.2 0 1 0 4.4 0a2.2 2.2 0 1 0 -4.4 0M543.0 355.0a2.2 2.2 0 1 0 4.4 0a2.2 2.2 0 1 0 -4.4 0M603.8 349.0a2.2 2.2 0 1 0 4.4 0a2.2 2.2 0 1 0 -4.4 0M622.4 345.6a2.2 2.2 0 1 0 4.4 0a2.2 2.2 0 1 0 -4.4 0M636.6 344.4a2.2 2.2 0 1 0 4.4 0a2.2 2.2 0 1 0 -4.4 0M669.0 351.2a2.2 2.2 0 1 0 4.4 0a2.2 2.2 0 1 0 -4.4 0M581.2 354.4a2.2 2.2 0 1 0 4.4 0a2.2 2.2 0 1 0 -4.4 0M579.8 366.0a2.2 2.2 0 1 0 4.4 0a2.2 2.2 0 1 0 -4.4 0M602.6 366.0a2.2 2.2 0 1 0 4.4 0a2.2 2.2 0 1 0 -4.4 0M622.4 361.4a2.2 2.2 0 1 0 4.4 0a2.2 2.2 0 1 0 -4.4 0M621.0 368.6a2.2 2.2 0 1 0 4.4 0a2.2 2.2 0 1 0 -4.4 0M653.8 357.0a2.2 2.2 0 1 0 4.4 0a2.2 2.2 0 1 0 -4.4 0M592.6 373.0a2.2 2.2 0 1 0 4.4 0a2.2 2.2 0 1 0 -4.4 0M540.2 379.0a2.2 2.2 0 1 0 4.4 0a2.2 2.2 0 1 0 -4.4 0M514.4 393.0a2.2 2.2 0 1 0 4.4 0a2.2 2.2 0 1 0 -4.4 0M602.6 387.6a2.2 2.2 0 1 0 4.4 0a2.2 2.2 0 1 0 -4.4 0M601.8 393.0a2.2 2.2 0 1 0 4.4 0a2.2 2.2 0 1 0 -4.4 0M602.2 393.4a2.2 2.2 0 1 0 4.4 0a2.2 2.2 0 1 0 -4.4 0M671.8 384.4a2.2 2.2 0 1 0 4.4 0a2.2 2.2 0 1 0 -4.4 0M660.6 393.0a2.2 2.2 0 1 0 4.4 0a2.2 2.2 0 1 0 -4.4 0M663.4 399.0a2.2 2.2 0 1 0 4.4 0a2.2 2.2 0 1 0 -4.4 0M670.4 400.4a2.2 2.2 0 1 0 4.4 0a2.2 2.2 0 1 0 -4.4 0M516.2 417.4a2.2 2.2 0 1 0 4.4 0a2.2 2.2 0 1 0 -4.4 0M635.2 417.4a2.2 2.2 0 1 0 4.4 0a2.2 2.2 0 1 0 -4.4 0M585.6 424.0a2.2 2.2 0 1 0 4.4 0a2.2 2.2 0 1 0 -4.4 0M574.2 435.4a2.2 2.2 0 1 0 4.4 0a2.2 2.2 0 1 0 -4.4 0M565.8 357.0a2.2 2.2 0 1 0 4.4 0a2.2 2.2 0 1 0 -4.4 0M580.8 390.6a2.2 2.2 0 1 0 4.4 0a2.2 2.2 0 1 0 -4.4 0M683.2 352.6L690.8 360.2M683.2 360.2L690.8 352.6M681.0 356.4H693.0M687.0 350.4V362.4M798.4 356.5L804.4 366.8H792.4ZM794.6 359.5L802.2 367.1M794.6 367.1L802.2 359.5M792.4 363.3H804.4M798.4 357.3V369.3M796.2 363.3a2.2 2.2 0 1 0 4.4 0a2.2 2.2 0 1 0 -4.4 0M689.4 362.0a2.2 2.2 0 1 0 4.4 0a2.2 2.2 0 1 0 -4.4 0M779.8 350.4a2.2 2.2 0 1 0 4.4 0a2.2 2.2 0 1 0 -4.4 0M735.8 354.4a2.2 2.2 0 1 0 4.4 0a2.2 2.2 0 1 0 -4.4 0M737.8 357.6a2.2 2.2 0 1 0 4.4 0a2.2 2.2 0 1 0 -4.4 0M740.2 363.0a2.2 2.2 0 1 0 4.4 0a2.2 2.2 0 1 0 -4.4 0M772.8 366.0a2.2 2.2 0 1 0 4.4 0a2.2 2.2 0 1 0 -4.4 0M764.2 374.4a2.2 2.2 0 1 0 4.4 0a2.2 2.2 0 1 0 -4.4 0M750.0 377.6a2.2 2.2 0 1 0 4.4 0a2.2 2.2 0 1 0 -4.4 0M718.8 376.0a2.2 2.2 0 1 0 4.4 0a2.2 2.2 0 1 0 -4.4 0M711.8 380.4a2.2 2.2 0 1 0 4.4 0a2.2 2.2 0 1 0 -4.4 0M694.8 386.0a2.2 2.2 0 1 0 4.4 0a2.2 2.2 0 1 0 -4.4 0M681.8 396.0a2.2 2.2 0 1 0 4.4 0a2.2 2.2 0 1 0 -4.4 0M713.2 396.0a2.2 2.2 0 1 0 4.4 0a2.2 2.2 0 1 0 -4.4 0M730.2 390.4a2.2 2.2 0 1 0 4.4 0a2.2 2.2 0 1 0 -4.4 0M748.6 393.0a2.2 2.2 0 1 0 4.4 0a2.2 2.2 0 1 0 -4.4 0M764.2 391.6a2.2 2.2 0 1 0 4.4 0a2.2 2.2 0 1 0 -4.4 0M788.2 393.0a2.2 2.2 0 1 0 4.4 0a2.2 2.2 0 1 0 -4.4 0M852.2 372.0a2.2 2.2 0 1 0 4.4 0a2.2 2.2 0 1 0 -4.4 0M830.8 406.0a2.2 2.2 0 1 0 4.4 0a2.2 2.2 0 1 0 -4.4 0M716.0 411.6a2.2 2.2 0 1 0 4.4 0a2.2 2.2 0 1 0 -4.4 0M728.8 411.0a2.2 2.2 0 1 0 4.4 0a2.2 2.2 0 1 0 -4.4 0M731.8 414.4a2.2 2.2 0 1 0 4.4 0a2.2 2.2 0 1 0 -4.4 0M769.8 418.6a2.2 2.2 0 1 0 4.4 0a2.2 2.2 0 1 0 -4.4 0M723.2 424.0a2.2 2.2 0 1 0 4.4 0a2.2 2.2 0 1 0 -4.4 0M752.8 431.4a2.2 2.2 0 1 0 4.4 0a2.2 2.2 0 1 0 -4.4 0M693.4 444.4a2.2 2.2 0 1 0 4.4 0a2.2 2.2 0 1 0 -4.4 0M871.2 353.8L878.8 361.4M871.2 361.4L878.8 353.8M869.0 357.6H881.0M875.0 351.6V363.6M448.2 243.6a2.2 2.2 0 1 0 4.4 0a2.2 2.2 0 1 0 -4.4 0M486.6 216.9a2.2 2.2 0 1 0 4.4 0a2.2 2.2 0 1 0 -4.4 0M487.3 217.6a2.2 2.2 0 1 0 4.4 0a2.2 2.2 0 1 0 -4.4 0M461.1 218.4L467.1 228.7H455.1ZM457.3 221.4L464.9 229.0M457.3 229.0L464.9 221.4M436.0 250.6H448.0M442.0 244.6V256.6M521.6 228.4H533.6M527.6 222.4V234.4M484.6 210.6L490.6 220.9H478.6ZM533.5 217.3L539.5 227.6H527.5ZM547.8 219.0L553.8 229.3H541.8ZM533.5 220.4L541.1 228.0M533.5 228.0L541.1 220.4M531.3 224.2H543.3M537.3 218.2V230.2M534.4 221.2L542.0 228.8M534.4 228.8L542.0 221.2M532.2 225.0H544.2M538.2 219.0V231.0M570.9 187.0L578.5 194.6M570.9 194.6L578.5 187.0M568.7 190.8H580.7M574.7 184.8V196.8"/>
<path style="fill:#000;stroke:#000;stroke-width:1" d="M754.4 303.8L760.6 315.0H748.2ZM541.0 414.8L547.2 426.0H534.8ZM598.4 409.2L604.6 420.4H592.2ZM875.0 351.4L881.2 362.6H868.8Z"/>
<rect x="106.2" y="362.6" width="163.3" height="99.39999999999998" fill="#fff" style="stroke:#1a1a1a;stroke-width:1.1"/>
<path class="pt" d="M120.3 379.2L127.7 387.2M120.3 387.2L127.7 379.2M117.1 402.5H130.6M123.8 396.6V408.4M123.8 415.6L129.0 425.2H118.6ZM122.7 437.4L126.5 441.4L122.7 445.4L118.9 441.4Z"/>
<text class="lg" transform="translate(141.2 389.9) scale(0.93 1)">Balandran.FR</text>
<text class="lg" transform="translate(141.2 409.6) scale(0.93 1)">Bourran.FR</text>
<text class="lg" transform="translate(141.2 429.4) scale(0.93 1)">Forli.IT</text>
<text class="lg" transform="translate(141.2 449.1) scale(0.93 1)">Prosser.US</text>
<rect x="106.2" y="2.1" width="824.4" height="459.9" class="ln"/>
<path class="ln" style="stroke-width:1.3" d="M134.6 462.0V475.5M331.9 462.0V475.5M530.4 462.0V475.5M728.9 462.0V475.5M927.7 462.0V475.5M106.2 22.1H92.6M106.2 135.2H92.6M106.2 248.2H92.6M106.2 361.3H92.6"/>
<text class="ax" text-anchor="middle" transform="translate(133.0 511.2) scale(0.93 1)">-0.10</text>
<text class="ax" text-anchor="middle" transform="translate(330.65 511.2) scale(0.93 1)">-0.05</text>
<text class="ax" text-anchor="middle" transform="translate(528.9 511.2) scale(0.93 1)">0.00</text>
<text class="ax" text-anchor="middle" transform="translate(727.7 511.2) scale(0.93 1)">0.05</text>
<text class="ax" text-anchor="middle" transform="translate(925.1 511.2) scale(0.93 1)">0.10</text>
<text class="ax" text-anchor="middle" transform="translate(74.8 21.2) rotate(-90) scale(0.93 1)">0.10</text>
<text class="ax" text-anchor="middle" transform="translate(74.8 135.5) rotate(-90) scale(0.93 1)">0.05</text>
<text class="ax" text-anchor="middle" transform="translate(74.8 247.1) rotate(-90) scale(0.93 1)">0.00</text>
<text class="ax" text-anchor="middle" transform="translate(74.8 361.0) rotate(-90) scale(0.93 1)">-0.05</text>
<text class="ax" text-anchor="middle" transform="translate(518.2 566.2) scale(0.93 1)">PC1 (8%)</text>
<text class="ax" text-anchor="middle" transform="translate(21 231.2) rotate(-90) scale(0.93 1)">PC2 (5.5%)</text>
</svg></body></html>
